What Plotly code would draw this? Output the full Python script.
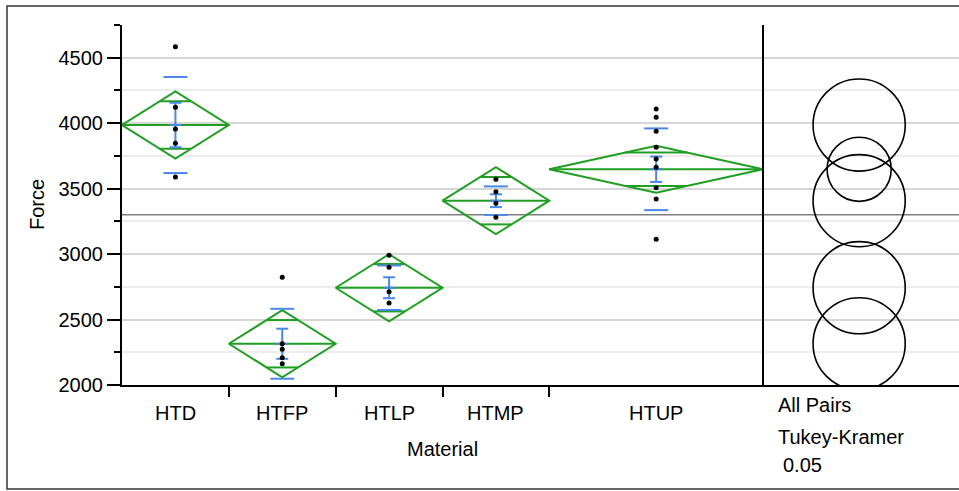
import math
import plotly.graph_objects as go

# ---- data -------------------------------------------------------------
groups = ["HTD", "HTFP", "HTLP", "HTMP", "HTUP"]
counts = [5, 5, 5, 5, 10]

force_htd = [4584, 4121, 3956, 3846, 3589]
force_htfp = [2823, 2316, 2273, 2209, 2163]
force_htlp = [2991, 2899, 2713, 2626]
force_htmp = [3571, 3477, 3388, 3281]
force_htup = [4108, 4045, 3938, 3816, 3727, 3663, 3507, 3421, 3113]
force_points = [force_htd, force_htfp, force_htlp, force_htmp, force_htup]

group_means = [3986, 2315, 2743, 3408, 3648]
ci95_half = [256, 256, 256, 256, 180]        # means-diamond half height
std_dev = [367, 267, 170, 109, 312]           # std dev lines
std_err = [170, 115, 80, 49, 97]              # mean error bars
circle_radius = [352, 352, 352, 352, 245]     # Tukey-Kramer comparison circles
grand_mean = 3300

y_ticks = [2000, 2500, 3000, 3500, 4000, 4500]
y_range = [2000, 4750]

# ---- geometry ---------------------------------------------------------
W, H = 959, 491
ML, MR, MT, MB = 122, 0, 25, 106
plot_w = W - ML - MR
plot_h = H - MT - MB
cat_px = 641                                  # width of the category region
n_total = sum(counts)
x_max = n_total * plot_w / cat_px
px_per_x = plot_w / x_max
px_per_y = plot_h / (y_range[1] - y_range[0])

GREEN = "#1f9e22"
BLUE = "#4a88e6"
FONT = "Liberation Sans, Arial, sans-serif"

left_edges = [sum(counts[:i]) for i in range(len(counts))]
centers = [l + c / 2 for l, c in zip(left_edges, counts)]

fig = go.Figure()

# grand mean reference line
fig.add_trace(go.Scatter(x=[0, x_max], y=[grand_mean, grand_mean], mode="lines",
                         line=dict(color="#7f7f7f", width=1.6), hoverinfo="skip"))

# means diamonds with overlap marks
dx, dy = [], []
for l, c, m, ci in zip(left_edges, counts, group_means, ci95_half):
    xc = l + c / 2
    r = l + c
    dx += [l, xc, r, xc, l, None, l, r, None]
    dy += [m, m + ci, m, m - ci, m, None, m, m, None]
    half = (c / 2) * (1 - 1 / math.sqrt(2))
    for s in (1, -1):
        dx += [xc - half, xc + half, None]
        dy += [m + s * ci / math.sqrt(2)] * 2 + [None]
fig.add_trace(go.Scatter(x=dx, y=dy, mode="lines", line=dict(color=GREEN, width=2),
                         hoverinfo="skip"))

# std dev lines and mean error bars
bx, by = [], []
sd_w = 12 / px_per_x
cap_w = 6 / px_per_x
for xc, m, sd, se in zip(centers, group_means, std_dev, std_err):
    for s in (1, -1):
        bx += [xc - sd_w, xc + sd_w, None]
        by += [m + s * sd] * 2 + [None]
    bx += [xc, xc, None]
    by += [m - se, m + se, None]
    for v in (m - se, m, m + se):
        bx += [xc - cap_w, xc + cap_w, None]
        by += [v, v, None]
fig.add_trace(go.Scatter(x=bx, y=by, mode="lines", line=dict(color=BLUE, width=2),
                         hoverinfo="skip"))

# raw observations
px, py = [], []
for xc, pts in zip(centers, force_points):
    px += [xc] * len(pts)
    py += pts
fig.add_trace(go.Scatter(x=px, y=py, mode="markers",
                         marker=dict(color="black", size=5)))

shapes = []
# comparison circles
circ_x = 34.5
for m, r in zip(group_means, circle_radius):
    rx = r * px_per_y / px_per_x
    shapes.append(dict(type="circle", xref="x", yref="y", x0=circ_x - rx, x1=circ_x + rx,
                       y0=m - r, y1=m + r, line=dict(color="black", width=1.6),
                       layer="above"))
# divider between the data panel and the circles panel
shapes.append(dict(type="line", xref="x", yref="y", x0=n_total, x1=n_total,
                   y0=y_range[0], y1=y_range[1], line=dict(color="black", width=2)))
# outer frame
shapes.append(dict(type="rect", xref="paper", yref="paper",
                   x0=(7 - ML) / plot_w, x1=1.05,
                   y0=-(489 - (MT + plot_h)) / plot_h, y1=1 + (MT - 6) / plot_h,
                   line=dict(color="#333333", width=1.5)))

annotations = []
for xc, g in zip(centers, groups):
    annotations.append(dict(x=xc, y=0, xref="x", yref="paper", text=g, showarrow=False,
                            xanchor="center", yanchor="middle", yshift=-28,
                            font=dict(size=20, color="black", family=FONT)))
annotations.append(dict(x=n_total / 2, y=0, xref="x", yref="paper", text="Material",
                        showarrow=False, xanchor="center", yanchor="middle", yshift=-64,
                        font=dict(size=20, color="black", family=FONT)))
annotations.append(dict(x=0, y=0.5, xref="paper", yref="paper", text="Force",
                        showarrow=False, textangle=-90, xanchor="center", yanchor="middle",
                        xshift=-85, font=dict(size=20, color="black", family=FONT)))
for txt, ys, xs in [("All Pairs", -20, 0), ("Tukey-Kramer", -52, 0), ("0.05", -80, 5)]:
    annotations.append(dict(x=n_total + 13 / px_per_x, y=0, xref="x", yref="paper",
                            text=txt, showarrow=False, xanchor="left", yanchor="middle",
                            yshift=ys, xshift=xs,
                            font=dict(size=20, color="black", family=FONT)))

fig.update_layout(
    width=W, height=H,
    margin=dict(l=ML, r=MR, t=MT, b=MB, pad=0),
    paper_bgcolor="white", plot_bgcolor="white",
    showlegend=False,
    font=dict(family=FONT, size=20, color="black"),
    shapes=shapes, annotations=annotations,
    xaxis=dict(range=[0, x_max], showgrid=False, zeroline=False,
               showline=True, linecolor="black", linewidth=2,
               tickmode="array", tickvals=left_edges[1:], ticks="outside",
               ticklen=10, tickwidth=1.5, tickcolor="black", showticklabels=False,
               fixedrange=True),
    yaxis=dict(range=y_range, zeroline=False,
               showline=True, linecolor="black", linewidth=2,
               tickmode="array", tickvals=y_ticks, ticks="outside",
               ticklen=13, tickwidth=1.5, tickcolor="black",
               showgrid=True, gridcolor="#d6d6d6", gridwidth=1.5,
               tickfont=dict(size=20, color="black", family=FONT),
               minor=dict(tickmode="linear", tick0=2000, dtick=250, ticks="outside",
                          ticklen=6, tickwidth=1.5, tickcolor="black",
                          showgrid=True, gridcolor="#ececec", gridwidth=1.5),
               fixedrange=True),
)

fig.write_html("out.html")
